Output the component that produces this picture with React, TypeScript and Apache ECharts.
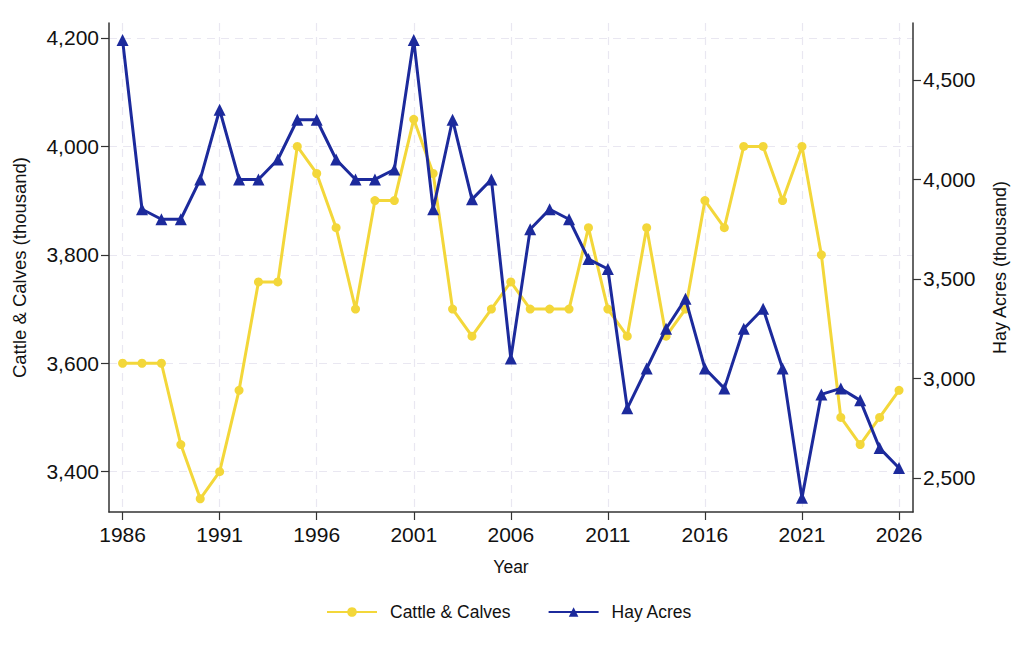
import React, { useEffect, useRef } from "react";
import * as echarts from "echarts";

const years = [
  1986, 1987, 1988, 1989, 1990, 1991, 1992, 1993, 1994, 1995, 1996, 1997, 1998, 1999, 2000,
  2001, 2002, 2003, 2004, 2005, 2006, 2007, 2008, 2009, 2010, 2011, 2012, 2013, 2014, 2015,
  2016, 2017, 2018, 2019, 2020, 2021, 2022, 2023, 2024, 2025, 2026,
];
const cattle = [
  3600, 3600, 3600, 3450, 3350, 3400, 3550, 3750, 3750, 4000, 3950, 3850, 3700, 3900, 3900,
  4050, 3950, 3700, 3650, 3700, 3750, 3700, 3700, 3700, 3850, 3700, 3650, 3850, 3650, 3700,
  3900, 3850, 4000, 4000, 3900, 4000, 3800, 3500, 3450, 3500, 3550,
];
const hay = [
  4700, 3850, 3800, 3800, 4000, 4350, 4000, 4000, 4100, 4300, 4300, 4100, 4000, 4000, 4050,
  4700, 3850, 4300, 3900, 4000, 3100, 3750, 3850, 3800, 3600, 3550, 2850, 3050, 3250, 3400,
  3050, 2950, 3250, 3350, 3050, 2400, 2920, 2950, 2890, 2650, 2550,
];
const yearTicks = [1986, 1991, 1996, 2001, 2006, 2011, 2016, 2021, 2026];
const cattleTicks = [3400, 3600, 3800, 4000, 4200];
const hayTicks = [2500, 3000, 3500, 4000, 4500];

const FONT = "Liberation Sans, Arial, Helvetica, sans-serif";
const YELLOW = "#f3d73a";
const BLUE = "#1c2a9c";
const AXIS = "#333333";
const GRID = "#e9e7f1";

const fmt = (v: number) => Math.round(v).toLocaleString("en-US");

export default function App() {
  const ref = useRef<HTMLDivElement>(null);
  useEffect(() => {
    document.body.style.margin = "0";
    const chart = echarts.init(ref.current!, null, { renderer: "svg" });
    chart.setOption({
      animation: false,
      backgroundColor: "#ffffff",
      textStyle: { fontFamily: FONT },
      grid: { left: 109, right: 111, top: 23, bottom: 140, containLabel: false },
      legend: {
        top: 598,
        left: 321,
        itemWidth: 50,
        itemHeight: 12,
        itemGap: 37,
        textStyle: { fontFamily: FONT, fontSize: 17.5, color: "#111", padding: [0, 0, 0, 8] },
        data: ["Cattle & Calves", "Hay Acres"],
      },
      xAxis: {
        type: "value",
        min: 1985.3,
        max: 2026.72,
        name: "Year",
        nameLocation: "middle",
        nameGap: 46,
        nameTextStyle: { fontFamily: FONT, fontSize: 17.5, color: "#111" },
        axisLine: { show: true, onZero: false, lineStyle: { color: AXIS, width: 1.5 } },
        axisTick: { show: true, length: 8, customValues: yearTicks, lineStyle: { color: AXIS, width: 1.2 } },
        axisLabel: {
          customValues: yearTicks,
          fontSize: 21,
          color: "#111",
          margin: 12,
          formatter: (v: number) => String(v),
        },
        splitLine: { show: true, lineStyle: { color: GRID, type: [8, 6], width: 1.2 } },
      },
      yAxis: [
        {
          type: "value",
          position: "left",
          min: 3325.6,
          max: 4227.6,
          name: "Cattle & Calves (thousand)",
          nameLocation: "middle",
          nameGap: 80,
          nameTextStyle: { fontFamily: FONT, fontSize: 18.5, color: "#111" },
          axisLine: { show: true, lineStyle: { color: AXIS, width: 1.5 } },
          axisTick: { show: true, length: 8, customValues: cattleTicks, lineStyle: { color: AXIS, width: 1.2 } },
          axisLabel: { customValues: cattleTicks, fontSize: 21, color: "#111", margin: 10, formatter: fmt },
          splitLine: { show: true, lineStyle: { color: GRID, type: [8, 6], width: 1.2 } },
        },
        {
          type: "value",
          position: "right",
          min: 2329,
          max: 4786,
          name: "Hay Acres (thousand)",
          nameLocation: "middle",
          nameGap: 78,
          nameRotate: 90,
          nameTextStyle: { fontFamily: FONT, fontSize: 18, color: "#111" },
          axisLine: { show: true, lineStyle: { color: AXIS, width: 1.5 } },
          axisTick: { show: true, length: 8, customValues: hayTicks, lineStyle: { color: AXIS, width: 1.2 } },
          axisLabel: { customValues: hayTicks, fontSize: 21, color: "#111", margin: 10, formatter: fmt },
          splitLine: { show: false },
        },
      ],
      series: [
        {
          name: "Cattle & Calves",
          type: "line",
          yAxisIndex: 0,
          data: years.map((y, i) => [y, cattle[i]]),
          symbol: "circle",
          symbolSize: 9,
          lineStyle: { color: YELLOW, width: 3 },
          itemStyle: { color: YELLOW },
          z: 2,
        },
        {
          name: "Hay Acres",
          type: "line",
          yAxisIndex: 1,
          data: years.map((y, i) => [y, hay[i]]),
          symbol: "triangle",
          symbolSize: 12,
          lineStyle: { color: BLUE, width: 3 },
          itemStyle: { color: BLUE },
          z: 3,
        },
      ],
    });
    return () => chart.dispose();
  }, []);
  return <div ref={ref} style={{ width: 1024, height: 652 }} />;
}
